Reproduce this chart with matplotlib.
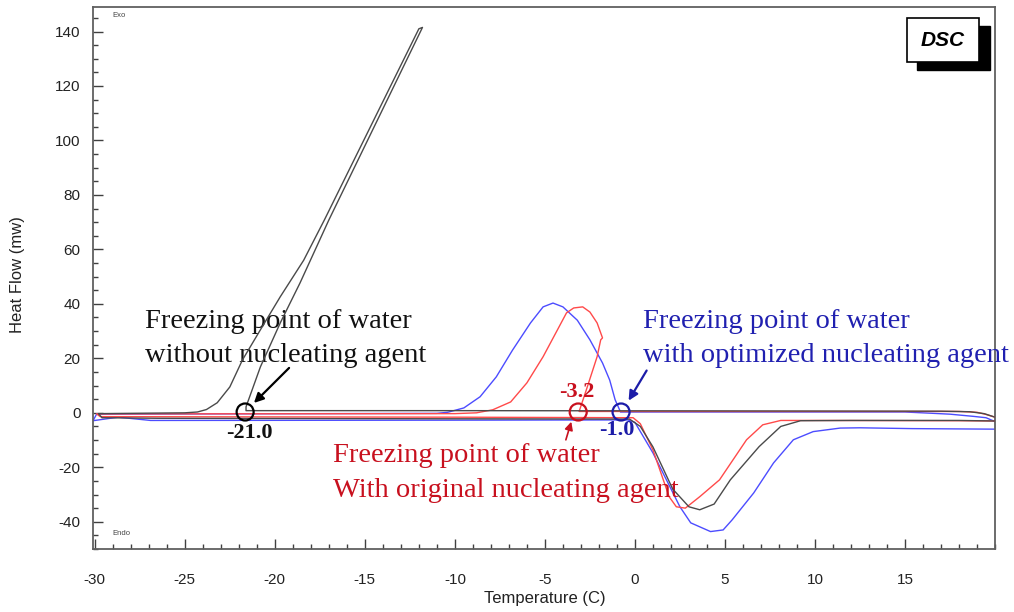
import matplotlib
matplotlib.use("Agg")
import matplotlib.pyplot as plt
from matplotlib.ticker import MultipleLocator, FixedLocator
from matplotlib.patches import Rectangle

plt.rcParams["axes.unicode_minus"] = False

# ---------------- data ----------------
# Sample without nucleating agent (cooling then heating run)
black_x = [20.0, 19.4, 18.6, 17.0, 5.0, -10.0, -21.6,
           -21.6, -20.8, -19.7, -18.6, -17.0, -11.8,
           -12.0, -17.25, -18.4, -19.7, -20.8, -21.8, -22.5, -23.2, -23.8, -24.3, -25.0, -29.8,
           -29.6, -26.5, -10.0, -0.3,
           0.3, 1.0, 2.1, 3.0, 3.6, 4.4, 5.3, 6.9, 8.1, 9.2, 12.0, 18.0, 20.0]
black_y = [-1.6, -0.3, 0.4, 0.6, 0.7, 0.8, 0.8,
           2.2, 16.9, 33.0, 47.7, 70.8, 141.5,
           141.0, 70.8, 56.0, 42.6, 30.5, 19.4, 9.5, 3.7, 1.2, 0.3, 0.0, -0.3,
           -1.8, -2.0, -2.2, -2.3,
           -5.0, -12.5, -28.0, -34.5, -35.6, -33.5, -24.6, -12.4, -5.0, -2.9, -2.8, -2.8, -3.0]

# Sample with original nucleating agent
red_x = [20.0, 19.5, 19.0, 18.0, 10.0, 0.0, -3.1,
         -2.7, -2.1, -1.9, -1.8, -2.1, -2.5, -2.9, -3.4, -3.8, -4.3, -5.1, -6.0, -6.9, -7.9, -8.8, -10.0, -29.9,
         -29.7, -20.0, -10.0, -0.1,
         0.3, 1.0, 1.9, 2.3, 2.8, 3.6, 4.7, 6.2, 7.1, 8.1, 10.0, 18.0, 20.0]
red_y = [-1.6, -0.6, 0.2, 0.5, 0.5, 0.5, 0.5,
         8.4, 20.6, 26.8, 27.5, 33.0, 37.0, 38.9, 38.5, 36.7, 30.5, 20.6, 11.0, 4.0, 1.1, 0.0, -0.3, -0.4,
         -1.4, -1.5, -1.6, -1.8,
         -4.0, -13.6, -30.8, -34.5, -35.0, -30.8, -24.6, -9.9, -4.4, -2.8, -2.8, -2.9, -3.0]

# Sample with optimized nucleating agent
blue_x = [20.0, 19.5, 18.8, 17.5, 16.6, 15.0, 5.0, -0.8,
          -1.1, -1.4, -1.8, -2.5, -3.2, -4.0, -4.55, -5.1, -5.8, -6.8, -7.7, -8.6, -9.5, -10.4, -11.0, -29.9,
          -30.1, -28.7, -26.9, -10.0, -0.4,
          0.0, 1.0, 2.5, 3.1, 4.2, 4.9, 5.4, 6.6, 7.7, 8.8, 9.9, 11.4, 12.5, 15.4, 20.0]
blue_y = [-3.2, -1.8, -1.3, -0.5, -0.2, 0.3, 0.3, 0.3,
          4.8, 12.0, 18.3, 26.8, 34.0, 38.9, 40.3, 38.9, 33.0, 23.0, 13.2, 5.9, 1.8, 0.2, -0.2, -0.5,
          -2.9, -1.6, -2.8, -2.7, -2.6,
          -3.5, -14.7, -34.5, -40.4, -43.6, -43.0, -39.3, -29.4, -18.4, -9.9, -6.9, -5.6, -5.5, -5.8, -6.0]

# Freezing points (marked with circles)
freeze_labels = ["-21.0", "-3.2", "-1.0"]
freeze_x = [-21.65, -3.15, -0.77]
freeze_y = [0.3, 0.3, 0.3]

x_ticks = [-30, -25, -20, -15, -10, -5, 0, 5, 10, 15]
y_ticks = [-40, -20, 0, 20, 40, 60, 80, 100, 120, 140]

# ---------------- figure ----------------
fig = plt.figure(figsize=(10.14, 6.12), dpi=100)
ax = fig.add_axes([93/1014, 1-549/612, (995-93)/1014, (549-7)/612])
ax.set_xlim(-30.1, 20.0)
ax.set_ylim(-50, 149)

c_black = "#4a4a4a"
c_red = "#ff4a4a"
c_blue = "#4c4cff"
ax.plot(blue_x, blue_y, color=c_blue, lw=1.0, zorder=2)
ax.plot(red_x, red_y, color=c_red, lw=1.0, zorder=3)
ax.plot(black_x, black_y, color=c_black, lw=1.0, zorder=4)

# circles at freezing points
circ_cols = ["black", "#c8101e", "#1c1ca8"]
for x, y, c in zip(freeze_x, freeze_y, circ_cols):
    ax.scatter([x], [y], s=150, facecolors="none", edgecolors=c, linewidths=1.6, zorder=6)

# ticks
ax.xaxis.set_major_locator(FixedLocator(x_ticks))
ax.xaxis.set_minor_locator(MultipleLocator(1))
ax.yaxis.set_major_locator(FixedLocator(y_ticks))
ax.yaxis.set_minor_locator(MultipleLocator(5))
ax.tick_params(which="both", direction="in", top=False, right=False, color="#404040", width=1.0)
ax.tick_params(which="major", length=7)
ax.tick_params(which="minor", length=3.5)
ax.tick_params(axis="x", which="major", pad=17)
ax.tick_params(axis="y", which="major", pad=9)
for lab in ax.get_xticklabels() + ax.get_yticklabels():
    lab.set_fontfamily("Liberation Sans")
    lab.set_fontsize(11)
    lab.set_color("#222222")
for s in ax.spines.values():
    s.set_color("#606060")
    s.set_linewidth(1.3)

fig.text(545/1014, 1-598/612, "Temperature (C)", ha="center", va="center",
         family="Liberation Sans", fontsize=12, color="#222222")
fig.text(18/1014, 1-275/612, "Heat Flow (mw)", ha="center", va="center", rotation=90,
         family="Liberation Sans", fontsize=12, color="#222222")

ax.text(0.022, 0.985, "Exo", transform=ax.transAxes, fontsize=5.5, color="#444444",
        family="Liberation Sans", ha="left", va="center")
ax.text(0.022, 0.028, "Endo", transform=ax.transAxes, fontsize=5.5, color="#444444",
        family="Liberation Sans", ha="left", va="center")

# annotations
serif = "Liberation Serif"
fs = 20.5
ax.text(-27.2, 31.1, "Freezing point of water", family=serif, fontsize=fs, color="#111111")
ax.text(-27.2, 18.6, "without nucleating agent", family=serif, fontsize=fs, color="#111111")
ax.text(0.46, 31.1, "Freezing point of water", family=serif, fontsize=fs, color="#2020b0",
        clip_on=False)
ax.text(0.46, 18.6, "with optimized nucleating agent", family=serif, fontsize=fs, color="#2020b0",
        clip_on=False)
ax.text(-16.77, -17.9, "Freezing point of water", family=serif, fontsize=fs, color="#c8101e")
ax.text(-16.77, -30.8, "With original nucleating agent", family=serif, fontsize=fs, color="#c8101e")

val_pos = [(-21.4, -7.4), (-3.2, 7.6), (-1.0, -6.3)]
for lab, (x, y), c in zip(freeze_labels, val_pos, ["#111111", "#c8101e", "#1c1ca8"]):
    ax.text(x, y, lab, family=serif, fontsize=16, fontweight="bold", color=c,
            ha="center", va="center", zorder=7)

ax.annotate("", xy=(-21.27, 2.9), xytext=(-19.1, 17.2),
            arrowprops=dict(arrowstyle="-|>", color="black", lw=1.6, mutation_scale=14))
ax.annotate("", xy=(-3.49, -2.3), xytext=(-3.88, -10.9),
            arrowprops=dict(arrowstyle="-|>", color="#c8101e", lw=1.2, mutation_scale=12))
ax.annotate("", xy=(-0.43, 3.6), xytext=(0.73, 16.4),
            arrowprops=dict(arrowstyle="-|>", color="#1c1ca8", lw=1.6, mutation_scale=14))

# DSC badge
fig.patches.append(Rectangle((917/1014, 1-70/612), 73/1014, 44/612, transform=fig.transFigure,
                             facecolor="black", edgecolor="black", zorder=10))
fig.patches.append(Rectangle((907/1014, 1-62/612), 72/1014, 44/612, transform=fig.transFigure,
                             facecolor="white", edgecolor="black", lw=1.2, zorder=11))
fig.text(943/1014, 1-40/612, "DSC", ha="center", va="center", family="Liberation Sans",
         fontsize=15, fontweight="bold", fontstyle="italic", zorder=12)

fig.savefig("out.png", dpi=100)
